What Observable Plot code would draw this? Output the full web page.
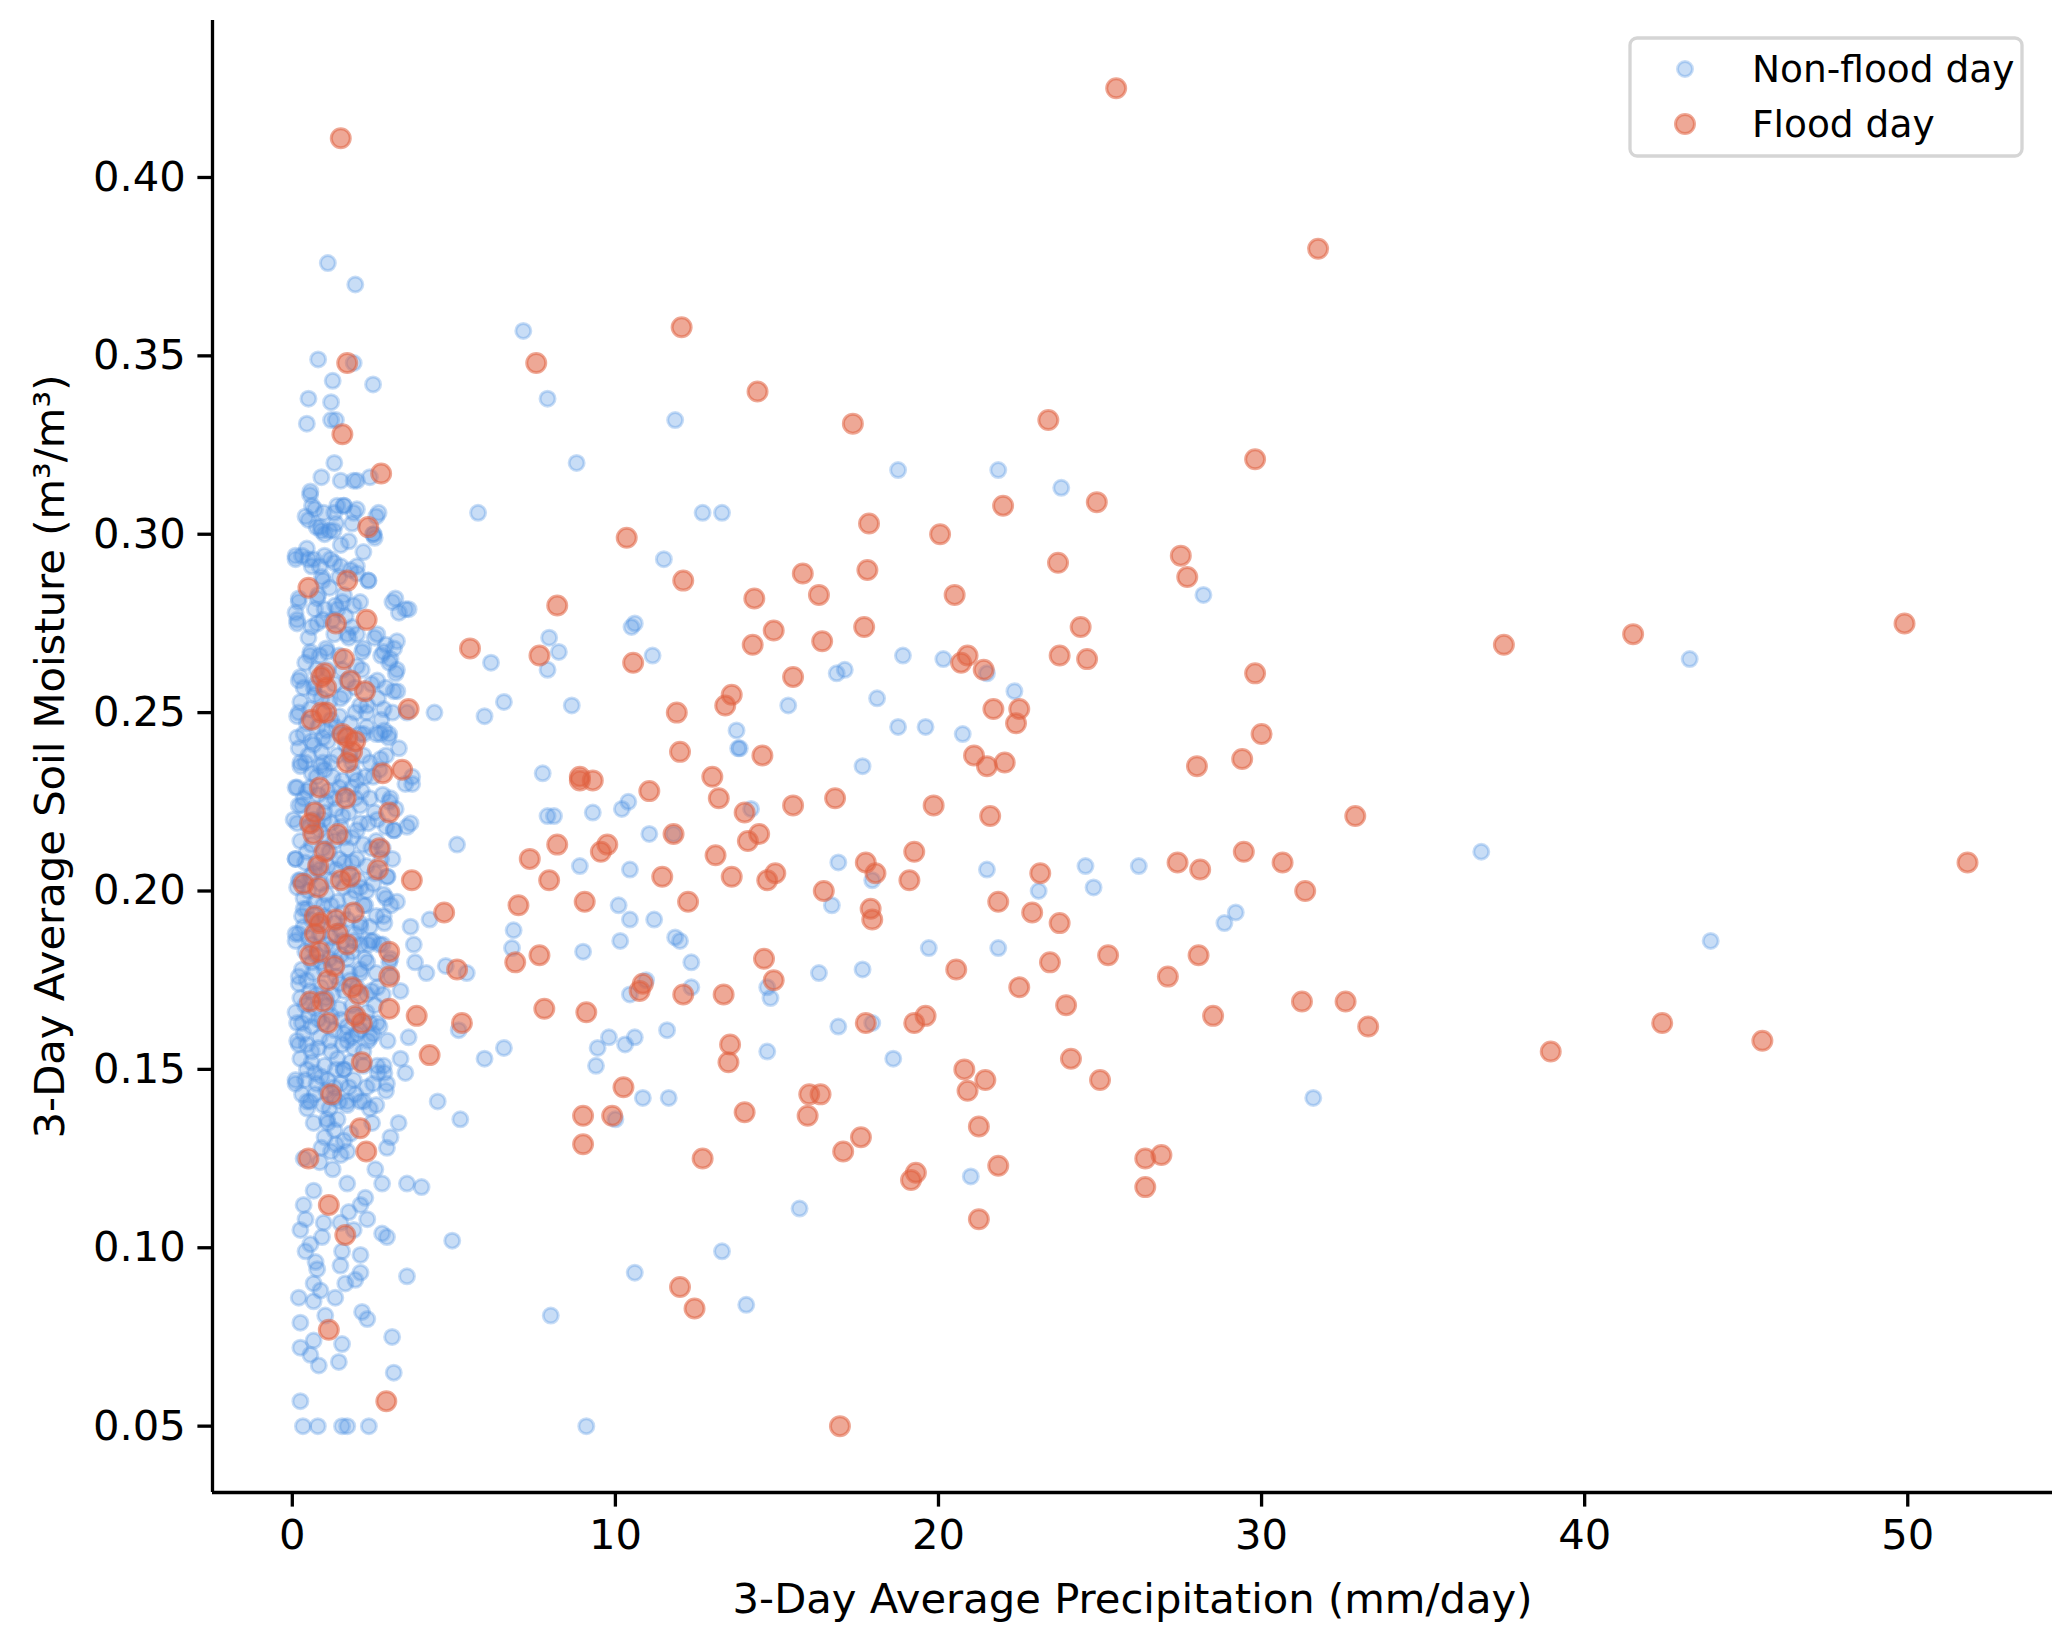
<!DOCTYPE html>
<html>
<head>
<meta charset="utf-8">
<script src="https://cdn.jsdelivr.net/npm/d3@7"></script>
<script src="https://cdn.jsdelivr.net/npm/@observablehq/plot@0.6"></script>
<style>
  html, body { margin: 0; padding: 0; background: #fff; }
  #chart { width: 2070px; height: 1644px; }
</style>
</head>
<body>
<div id="chart"></div>
<script>
// ---------- data (precipitation mm/day, soil moisture m3/m3) ----------
// non-flood days, dense low-precipitation cluster
const nonFloodCluster = [
[1.1,0.376],[1.95,0.370],[0.8,0.349],[1.9,0.348],[0.5,0.338],[1.2,0.337],[1.25,0.343],[2.5,0.342],[0.45,0.331],[1.2,0.332],
[1.35,0.332],[0.9,0.316],[1.3,0.320],[1.5,0.315],[1.9,0.315],[2.0,0.315],[2.4,0.316],[0.55,0.311],[0.7,0.307],[1.6,0.308],
[1.3,0.306],[1.9,0.306],[0.5,0.304],[0.75,0.302],[0.9,0.301],[1.0,0.300],[1.15,0.301],[1.35,0.303],[2.6,0.305],[2.5,0.300],
[2.55,0.299],[1.5,0.297],[0.1,0.293],[0.3,0.294],[0.5,0.293],[0.6,0.291],[1.0,0.294],[1.3,0.292],[1.5,0.291],[1.8,0.290],
[2.0,0.289],[1.45,0.288],[2.35,0.287],[0.95,0.287],[0.8,0.283],[3.1,0.281],[0.2,0.281],[0.1,0.278],[1.0,0.279],[1.4,0.279],
[1.65,0.277],[3.3,0.278],[3.5,0.279],[0.15,0.275],[0.6,0.274],[0.95,0.276],[1.3,0.272],[2.0,0.272],[2.55,0.271],[1.75,0.271],
[2.9,0.269],[3.15,0.268],[2.75,0.266],[0.55,0.266],[0.4,0.264],[0.85,0.266],[1.1,0.262],[1.55,0.262],[2.15,0.262],[3.0,0.264],
[3.2,0.261],[0.2,0.259],[0.7,0.258],[1.3,0.258],[1.95,0.257],[2.45,0.258],[2.9,0.257],[3.25,0.256],[0.25,0.253],[0.9,0.254],
[1.6,0.255],[2.1,0.252],[2.65,0.254],[3.1,0.250],[3.55,0.250],[0.15,0.249],[0.45,0.247],[0.8,0.246],[1.2,0.248],[1.45,0.249],
[1.8,0.247],[2.3,0.246],[2.75,0.248],[0.35,0.244],[0.6,0.242],[1.1,0.242],[1.65,0.241],[2.1,0.244],[2.6,0.244],[2.85,0.245],
[3.0,0.244],[0.2,0.240],[0.5,0.238],[0.9,0.239],[1.4,0.238],[1.85,0.236],[2.2,0.238],[2.4,0.236],[2.9,0.238],[3.3,0.240],
[0.25,0.235],[0.6,0.233],[1.0,0.234],[1.25,0.232],[1.55,0.231],[2.0,0.231],[2.5,0.232],[2.7,0.234],[3.5,0.230],[0.1,0.229],
[0.45,0.228],[0.8,0.227],[1.1,0.228],[1.6,0.227],[2.15,0.228],[2.8,0.227],[0.3,0.224],[0.65,0.223],[1.0,0.222],[1.35,0.223],
[1.75,0.222],[2.1,0.224],[2.55,0.222],[3.0,0.225],[3.2,0.223],[0.15,0.219],[0.5,0.218],[0.85,0.217],[1.2,0.219],[1.5,0.218],
[2.0,0.217],[2.35,0.219],[2.9,0.218],[3.15,0.217],[3.55,0.218],[0.25,0.214],[0.6,0.213],[0.95,0.212],[1.3,0.214],[1.7,0.212],
[2.2,0.213],[2.6,0.214],[2.8,0.212],[0.1,0.209],[0.4,0.208],[0.75,0.208],[1.1,0.207],[1.45,0.209],[1.85,0.208],[2.3,0.207],
[2.75,0.209],[3.1,0.209],[0.2,0.203],[0.55,0.204],[0.9,0.202],[1.25,0.203],[1.6,0.201],[2.05,0.203],[2.5,0.202],[2.95,0.204],
[0.15,0.201],[0.35,0.198],[0.7,0.197],[1.05,0.199],[1.4,0.197],[1.8,0.198],[2.2,0.196],[2.9,0.198],[3.05,0.196],[0.3,0.193],
[0.6,0.192],[1.0,0.193],[1.3,0.191],[1.7,0.192],[2.1,0.191],[2.6,0.193],[2.85,0.191],[0.2,0.188],[0.5,0.187],[0.85,0.188],
[1.2,0.187],[1.55,0.186],[1.95,0.188],[2.35,0.185],[2.5,0.186],[2.7,0.185],[2.8,0.185],[0.1,0.186],[0.4,0.183],[0.75,0.182],
[1.15,0.181],[1.5,0.182],[1.85,0.183],[2.25,0.181],[3.0,0.180],[0.3,0.178],[0.65,0.177],[1.0,0.178],[1.35,0.176],[1.75,0.177],
[2.1,0.178],[2.6,0.177],[3.05,0.176],[0.2,0.174],[0.55,0.172],[0.9,0.173],[1.25,0.171],[1.6,0.172],[2.0,0.173],[2.45,0.172],
[2.8,0.171],[0.4,0.168],[0.7,0.167],[1.1,0.168],[1.45,0.167],[1.85,0.168],[2.3,0.166],[2.55,0.168],[0.1,0.166],[0.3,0.163],
[0.6,0.162],[0.95,0.163],[1.3,0.161],[1.7,0.162],[2.1,0.161],[2.5,0.160],[0.15,0.158],[0.45,0.157],[0.8,0.156],[1.15,0.158],
[1.55,0.157],[1.9,0.156],[2.35,0.158],[2.95,0.158],[0.25,0.153],[0.6,0.152],[1.0,0.151],[1.4,0.153],[1.8,0.152],[2.2,0.151],
[2.65,0.149],[2.85,0.149],[0.1,0.146],[0.4,0.147],[0.75,0.146],[1.1,0.147],[1.5,0.146],[1.9,0.147],[2.3,0.145],[2.9,0.144],
[0.3,0.143],[0.55,0.141],[0.95,0.140],[1.3,0.142],[1.7,0.140],[2.1,0.141],[2.4,0.139],
[0.7,0.255],[1.05,0.245],[1.5,0.244],[0.95,0.236],[1.3,0.226],[0.55,0.229],[1.85,0.229],[0.75,0.219],[1.6,0.215],[1.05,0.215],
[1.35,0.206],[0.65,0.205],[1.75,0.205],[0.95,0.196],[1.55,0.194],[0.45,0.195],[1.25,0.184],[0.6,0.185],[1.7,0.181],[0.9,0.180],
[1.45,0.174],[0.75,0.171],[1.95,0.165],[1.2,0.165],[0.5,0.165],[1.6,0.160],[0.85,0.159],[1.35,0.150],[0.7,0.149],[1.75,0.145],
[1.05,0.144],[2.6,0.140],[2.5,0.146],[2.2,0.155],[2.0,0.160],[2.4,0.163],[2.7,0.162],[2.3,0.171],[2.1,0.185],[2.4,0.190],
[2.3,0.200],[2.55,0.205],[2.45,0.212],[2.4,0.226],[2.25,0.232],[2.3,0.250],[2.0,0.263],[2.2,0.268],[1.6,0.283],[2.1,0.281],
[2.2,0.295],[1.75,0.298]
];

// non-flood days, cluster points read from close-up views
const nonFloodClusterDetail = [
[0.56,0.312],[0.61,0.308],[0.41,0.305],[0.97,0.306],[1.39,0.308],[1.59,0.308],[2.0,0.307],[2.67,0.306],[1.85,0.303],[0.87,0.302],
[1.28,0.301],[2.52,0.300],[0.1,0.294],[0.66,0.293],[1.18,0.293],[2.0,0.291],[2.36,0.287],[0.92,0.288],[0.2,0.282],[0.77,0.282],
[1.33,0.280],[1.9,0.280],[3.19,0.282],[3.6,0.279],[0.15,0.276],[0.77,0.275],[1.7,0.272],[2.63,0.272],[3.24,0.270],[0.56,0.267],
[1.08,0.267],[2.16,0.267],[2.83,0.267],[3.04,0.265],[3.24,0.262],[0.25,0.260],[0.66,0.257],[2.63,0.259],[3.14,0.256],[0.2,0.250],
[1.49,0.254],[2.32,0.252],[2.83,0.251],[0.15,0.243],[0.66,0.241],[2.21,0.244],[2.73,0.244],[2.98,0.243],[0.25,0.236],[0.87,0.235],
[1.9,0.233],[2.73,0.237],[3.71,0.232],
[0.15,0.229],[0.04,0.220],[0.2,0.224],[0.97,0.220],[2.11,0.219],[2.63,0.220],[3.14,0.217],[3.66,0.219],[3.04,0.226],[3.71,0.230],
[0.1,0.209],[2.0,0.209],[2.93,0.204],[0.25,0.203],[2.11,0.201],[2.83,0.199],[3.24,0.197],[0.35,0.195],[2.26,0.196],[2.83,0.193],
[3.66,0.190],[0.1,0.188],[2.11,0.190],[2.42,0.186],[3.76,0.185],[2.32,0.180],[3.04,0.181],[0.2,0.176],[2.11,0.177],[2.63,0.173],
[3.35,0.172],[0.25,0.170],[0.15,0.163],[2.63,0.163],[2.42,0.159],[3.6,0.159],[0.2,0.157],[1.7,0.158],[0.1,0.147],[2.63,0.151],
[2.83,0.151],[2.93,0.146],[1.59,0.150],[0.46,0.141],[2.21,0.141],[1.7,0.141],
[0.45,0.296],[0.85,0.291],[1.15,0.285],[1.55,0.281],[0.7,0.279],[1.25,0.276],[1.85,0.274],[0.5,0.271],[1.05,0.268],[1.45,0.266],
[0.75,0.262],[1.7,0.259],[0.35,0.257],[1.15,0.253],[1.95,0.250],[0.55,0.251],[1.35,0.246],[0.95,0.243],[1.75,0.238],[0.4,0.236],
[1.2,0.236],[0.75,0.232],[1.45,0.229],[1.95,0.226],[0.35,0.226],[1.05,0.225],[0.65,0.220],[1.55,0.221],[1.85,0.215],[0.45,0.211],
[1.15,0.211],[0.85,0.206],[1.6,0.208],[1.95,0.200],[0.5,0.200],[1.2,0.196],[0.8,0.191],[1.5,0.189],[1.9,0.186],[0.35,0.190],
[1.05,0.185],[0.6,0.180],[1.35,0.180],[1.8,0.175],[0.45,0.175],[1.05,0.170],[0.8,0.164],[1.5,0.164],[1.85,0.159],[0.35,0.160],
[1.2,0.155],[0.6,0.155],[1.6,0.150],[0.9,0.148],[1.3,0.145],[0.45,0.150],[1.95,0.143],[0.7,0.143],[1.45,0.141],[1.15,0.139],
[0.46,0.139],[0.66,0.135],[1.07,0.136],[2.47,0.135],[3.29,0.135],[3.04,0.131],[2.93,0.128],[0.35,0.125],[2.57,0.122],[2.78,0.118],
[0.66,0.116],[1.7,0.118],[2.26,0.114],[2.11,0.112],[0.35,0.112],[1.75,0.110],[2.32,0.108],[0.41,0.108],[0.97,0.107],[1.49,0.107],
[1.9,0.105],[0.25,0.105],[0.92,0.103],[2.78,0.104],[2.93,0.103],[0.56,0.101],[1.54,0.099],[2.11,0.098],[0.41,0.099],[0.72,0.096],
[0.77,0.094],[1.49,0.095],[2.11,0.093],[1.95,0.091],[1.64,0.090],[0.66,0.090],[0.87,0.088],[1.33,0.086],[0.2,0.086],[0.66,0.085],
[1.02,0.081],[2.16,0.082],[2.32,0.080],[0.25,0.079],[0.66,0.074],[1.54,0.073],[3.09,0.075],[0.25,0.072],[0.56,0.070],[0.82,0.067],
[1.44,0.068],[3.14,0.065],[0.25,0.057],[0.33,0.050],[0.79,0.050],[1.54,0.050],[1.7,0.050],[2.37,0.050],
[1.0,0.131],[1.3,0.133],[1.6,0.130],[1.2,0.127],[1.5,0.126],[0.9,0.128],[1.8,0.132],[1.1,0.135],[1.4,0.136],[1.7,0.127],
[0.85,0.124],[1.25,0.122],[1.35,0.129]
];

// non-flood days, scattered at higher precipitation
const nonFloodSpread = [
[7.15,0.357],[7.9,0.338],[11.85,0.332],[8.8,0.320],[18.75,0.318],[21.85,0.318],[23.8,0.313],[5.75,0.306],[12.7,0.306],[13.3,0.306],
[11.5,0.293],[28.2,0.283],[10.6,0.275],[10.5,0.274],[7.95,0.271],[8.25,0.267],[6.15,0.264],[18.9,0.266],[20.15,0.265],[43.25,0.265],
[11.15,0.266],[7.9,0.262],[17.1,0.262],[16.85,0.261],[21.5,0.261],[6.55,0.253],[8.65,0.252],[15.35,0.252],[18.1,0.254],[22.35,0.256],
[5.95,0.249],[4.4,0.250],[13.75,0.245],[18.75,0.246],[19.6,0.246],[20.75,0.244],[13.8,0.240],[13.85,0.240],[7.75,0.233],[17.65,0.235],
[7.9,0.221],[8.1,0.221],[9.3,0.222],[10.2,0.223],[10.4,0.225],[14.2,0.223],[11.05,0.216],[11.8,0.216],[8.9,0.207],[10.45,0.206],
[21.5,0.206],[16.9,0.208],[24.55,0.207],[26.2,0.207],[36.8,0.211],[5.1,0.213],[16.7,0.196],[10.1,0.196],[10.45,0.192],[11.2,0.192],
[10.15,0.186],[12.0,0.186],[17.95,0.203],[4.25,0.192],[6.8,0.184],[6.85,0.189],[9.0,0.183],[11.85,0.187],[19.7,0.184],[21.85,0.184],
[28.85,0.191],[29.2,0.194],[43.9,0.186],[24.8,0.201],[23.1,0.200],[4.75,0.179],[5.4,0.177],[3.8,0.180],[12.35,0.180],[16.3,0.177],
[17.65,0.178],[4.15,0.177],[10.95,0.175],[14.7,0.173],[14.8,0.170],[10.45,0.171],[12.35,0.173],[16.9,0.162],[17.95,0.163],[11.6,0.161],
[5.15,0.161],[10.6,0.159],[9.8,0.159],[10.3,0.157],[9.45,0.156],[6.55,0.156],[5.95,0.153],[14.7,0.155],[9.4,0.151],[18.6,0.153],
[3.35,0.153],[3.5,0.149],[4.5,0.141],[10.85,0.142],[11.65,0.142],[31.6,0.142],[5.2,0.136],[10.0,0.136],[15.7,0.111],[21.0,0.120],
[13.3,0.099],[10.6,0.093],[14.05,0.084],[8.0,0.081],[9.1,0.050],[4.95,0.102],[3.55,0.092],[4.0,0.117],[3.55,0.118]
];

// flood days, low-precipitation cluster
const floodCluster = [
[1.5,0.411],[1.7,0.348],[1.55,0.328],[2.75,0.317],[2.35,0.302],[0.5,0.285],[1.7,0.287],[2.3,0.276],[1.35,0.275],[1.6,0.265],
[0.9,0.260],[1.0,0.261],[1.8,0.259],[0.9,0.250],[1.05,0.250],[0.6,0.248],[3.6,0.251],[2.25,0.256],[1.05,0.257],[1.55,0.244],
[1.7,0.243],[1.95,0.242],[1.85,0.239],[1.7,0.236],[3.4,0.234],[0.85,0.229],[2.8,0.233],[0.7,0.222],[0.55,0.219],[0.65,0.216],
[1.65,0.226],[3.0,0.222],[2.7,0.212],[1.4,0.216],[1.0,0.211],[0.8,0.207],[0.35,0.202],[0.8,0.201],[1.5,0.203],[1.8,0.204],
[2.65,0.206],[1.9,0.194],[0.7,0.193],[0.85,0.191],[1.35,0.192],[0.7,0.188],[1.4,0.188],[0.55,0.182],[0.85,0.183],[1.7,0.185],
[3.0,0.183],[1.3,0.179],[1.1,0.175],[3.0,0.176],[1.85,0.173],[2.05,0.171],[0.95,0.169],[0.55,0.169],[1.95,0.165],[2.15,0.163],
[1.1,0.163],[3.0,0.167],[2.15,0.152],[1.2,0.143],[2.1,0.1335],[2.29,0.127],[0.5,0.125],[1.13,0.112],[1.64,0.1036],[1.13,0.077],
[2.91,0.057],[3.7,0.203]
];

// flood days, scattered at higher precipitation
const floodSpread = [
[25.5,0.425],[31.75,0.380],[12.05,0.358],[7.55,0.348],[14.4,0.340],[17.35,0.331],[23.4,0.332],[29.8,0.321],[24.9,0.309],[22.0,0.308],
[17.85,0.303],[10.35,0.299],[20.05,0.300],[27.5,0.294],[23.7,0.292],[27.7,0.288],[17.8,0.290],[12.1,0.287],[15.8,0.289],[16.3,0.283],
[20.5,0.283],[14.3,0.282],[8.2,0.280],[49.9,0.275],[24.4,0.274],[17.7,0.274],[14.9,0.273],[41.5,0.272],[16.4,0.270],[37.5,0.269],
[14.25,0.269],[5.5,0.268],[23.75,0.266],[20.9,0.266],[7.65,0.266],[20.7,0.264],[24.6,0.265],[10.55,0.264],[29.8,0.261],[21.4,0.262],
[15.5,0.260],[13.6,0.255],[13.4,0.252],[21.7,0.251],[22.5,0.251],[11.9,0.250],[22.4,0.247],[30.0,0.244],[14.55,0.238],[12.0,0.239],
[21.1,0.238],[21.5,0.235],[22.05,0.236],[29.4,0.237],[28.0,0.235],[13.0,0.232],[8.9,0.232],[8.9,0.231],[9.3,0.231],[11.05,0.228],
[13.2,0.226],[16.8,0.226],[15.5,0.224],[19.85,0.224],[21.6,0.221],[32.9,0.221],[14.0,0.222],[11.8,0.216],[14.45,0.216],[14.1,0.214],
[8.2,0.213],[9.75,0.213],[9.55,0.211],[19.25,0.211],[29.45,0.211],[13.1,0.210],[30.65,0.208],[17.75,0.208],[27.4,0.208],[28.1,0.206],
[51.85,0.208],[7.35,0.209],[23.15,0.205],[14.95,0.205],[13.6,0.204],[11.45,0.204],[18.05,0.205],[14.7,0.203],[19.1,0.203],[7.95,0.203],
[31.35,0.200],[16.45,0.200],[21.85,0.197],[9.05,0.197],[12.25,0.197],[7.0,0.196],[17.9,0.195],[4.7,0.194],[22.9,0.194],[17.95,0.192],
[23.75,0.191],[28.05,0.182],[25.25,0.182],[7.65,0.182],[14.6,0.181],[6.9,0.180],[23.45,0.180],[20.55,0.178],[5.1,0.178],[27.1,0.176],
[14.9,0.175],[10.85,0.174],[10.75,0.172],[22.5,0.173],[13.35,0.171],[12.1,0.171],[31.25,0.169],[32.6,0.169],[23.95,0.168],[7.8,0.167],
[9.1,0.166],[3.85,0.165],[28.5,0.165],[19.6,0.165],[19.25,0.163],[17.75,0.163],[42.4,0.163],[33.3,0.162],[5.25,0.163],[13.55,0.157],
[45.5,0.158],[4.25,0.154],[38.95,0.155],[24.1,0.153],[13.5,0.152],[20.8,0.150],[25.0,0.147],[21.45,0.147],[20.9,0.144],[16.0,0.143],
[16.35,0.143],[10.25,0.145],[15.95,0.137],[14.0,0.138],[9.9,0.137],[9.0,0.137],[21.25,0.134],[17.6,0.131],[9.0,0.129],[17.05,0.127],
[26.9,0.126],[26.4,0.125],[12.7,0.125],[21.85,0.123],[19.3,0.121],[19.15,0.119],[26.4,0.117],[21.25,0.108],[12.0,0.089],[12.45,0.083],
[16.95,0.050]
];

const xTicks = [0, 10, 20, 30, 40, 50];
const yTicks = [0.05, 0.10, 0.15, 0.20, 0.25, 0.30, 0.35, 0.40];
const xLabel = "3-Day Average Precipitation (mm/day)";
const yLabel = "3-Day Average Soil Moisture (m³/m³)";
const seriesNames = ["Non-flood day", "Flood day"];
const seriesColors = ["#4a90e2", "#e0603f"];

// ---------- chart ----------
const toObj = ([x, y]) => ({x, y});
const nonFlood = [...nonFloodCluster, ...nonFloodClusterDetail, ...nonFloodSpread].map(toObj);
const flood = [...floodCluster, ...floodSpread].map(toObj);

const W = 2070, H = 1644;
const mL = 212, mR = 18, mT = 20, mB = 152;
const xDomain = [-2.47, 54.48];
const yDomain = [0.0314, 0.444];
const FS = 41.7;
const LFS = 37.5;

const plot = Plot.plot({
  width: W, height: H,
  marginLeft: mL, marginRight: mR, marginTop: mT, marginBottom: mB,
  style: {fontFamily: "'DejaVu Sans', sans-serif", color: "#000", background: "#fff", overflow: "visible"},
  x: {domain: xDomain},
  y: {domain: yDomain},
  marks: [
    Plot.dot(nonFlood, {x: "x", y: "y", r: 7.5, fill: seriesColors[0], fillOpacity: 0.3,
      stroke: seriesColors[0], strokeOpacity: 0.3, strokeWidth: 3}),
    Plot.dot(flood, {x: "x", y: "y", r: 9.5, fill: seriesColors[1], fillOpacity: 0.55,
      stroke: seriesColors[1], strokeOpacity: 0.55, strokeWidth: 3}),
    Plot.axisX({ticks: xTicks, tickSize: 14.6, tickPadding: 12, fontSize: FS, strokeWidth: 3.3, label: null, tickFormat: d3.format("d")}),
    Plot.axisY({ticks: yTicks, tickSize: 14.6, tickPadding: 12, fontSize: FS, strokeWidth: 3.3, label: null, tickFormat: d3.format(".2f")}),
    Plot.ruleX([xDomain[0]], {strokeWidth: 3.3, stroke: "#000"}),
    Plot.ruleY([yDomain[0]], {strokeWidth: 3.3, stroke: "#000"}),
    Plot.text([xLabel], {frameAnchor: "bottom", dy: 107, fontSize: FS, lineAnchor: "middle", textAnchor: "middle", fill: "#000"}),
    Plot.text([yLabel], {frameAnchor: "left", dx: -162, rotate: -90, fontSize: FS, lineAnchor: "middle", textAnchor: "middle", fill: "#000"})
  ]
});

// legend (drawn into the same SVG)
const svg = d3.select(plot);
const lg = svg.append("g").attr("font-family", "'DejaVu Sans', sans-serif").attr("text-anchor", "start");
lg.append("rect").attr("x", 1630).attr("y", 38).attr("width", 392).attr("height", 118)
  .attr("rx", 7).attr("fill", "#fff").attr("fill-opacity", 0.8).attr("stroke", "#d5d5d5").attr("stroke-width", 3.3);
const rows = [{y: 69, r: 7.5, op: 0.3}, {y: 124, r: 9.5, op: 0.55}];
rows.forEach((row, i) => {
  lg.append("circle").attr("cx", 1685).attr("cy", row.y).attr("r", row.r)
    .attr("fill", seriesColors[i]).attr("fill-opacity", row.op)
    .attr("stroke", seriesColors[i]).attr("stroke-opacity", row.op).attr("stroke-width", 3);
  lg.append("text").attr("x", 1752).attr("y", row.y).attr("dy", "0.35em")
    .attr("text-anchor", "start").attr("font-size", LFS).attr("fill", "#000").text(seriesNames[i]);
});

document.getElementById("chart").appendChild(plot);
</script>
</body>
</html>
